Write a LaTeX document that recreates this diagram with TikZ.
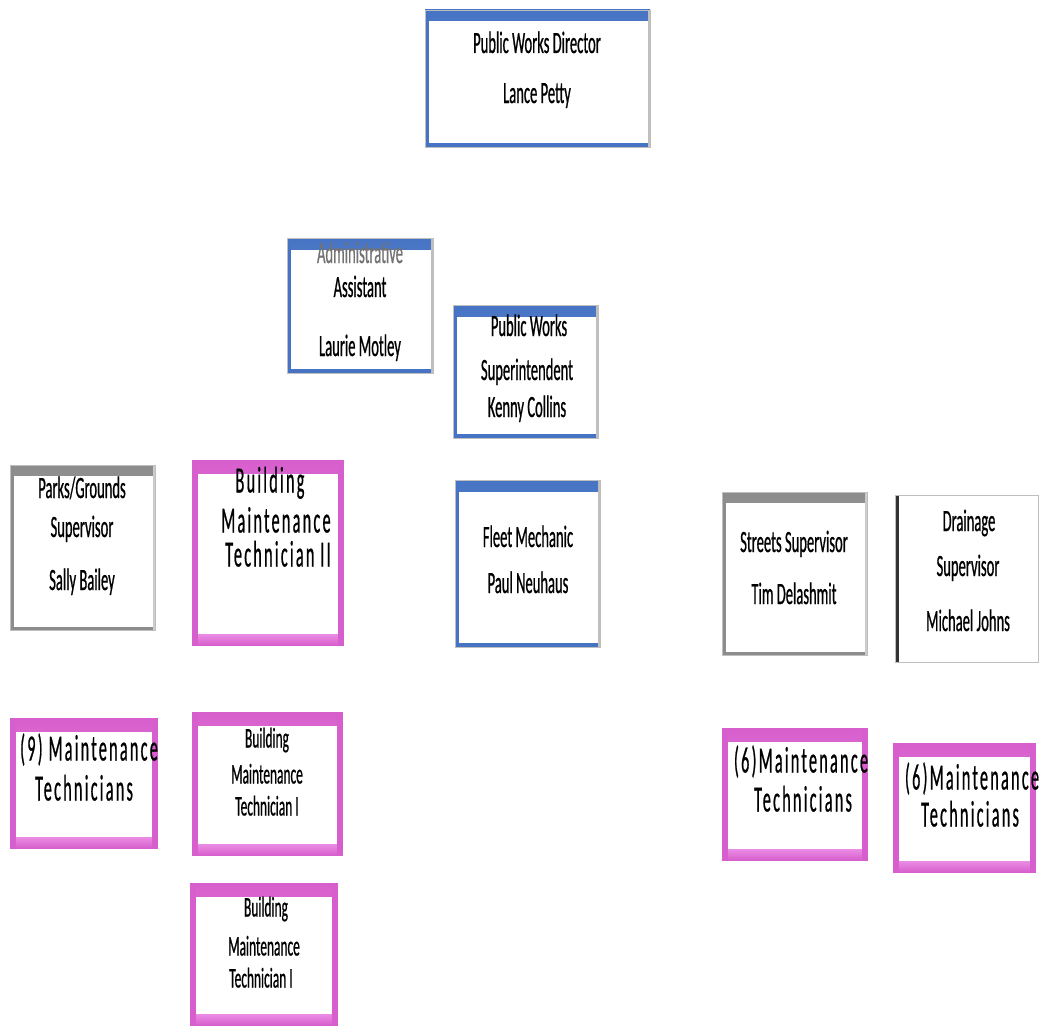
\documentclass[tikz,border=0pt]{standalone}
\usepackage{fontspec}
\newfontfamily\cf[FakeStretch=0.47,FakeBold=0.6]{Carlito}
\newfontfamily\cfs[FakeStretch=0.47,FakeBold=0.6]{Carlito}
\newfontfamily\cfb[FakeStretch=0.44,LetterSpace=6,FakeBold=0.5]{Carlito}
\definecolor{blueL}{RGB}{120,160,225}
\definecolor{blueD}{RGB}{70,115,195}
\definecolor{pinkL}{RGB}{235,140,228}
\definecolor{pinkD}{RGB}{215,95,205}
\definecolor{grayL}{RGB}{190,190,190}
\definecolor{grayD}{RGB}{140,140,140}
\tikzset{
  base/.style={rectangle, inner sep=0pt, outer sep=0pt, fill=white, draw=black!25, line width=0.6pt},
  bluebox/.style={base, path picture={
    \fill[top color=blueD, bottom color=blueL] (path picture bounding box.north west) rectangle ([yshift=-11pt]path picture bounding box.north east);
    \fill[blueD] (path picture bounding box.north west) rectangle ([xshift=4pt]path picture bounding box.south west);
    \fill[blueD] (path picture bounding box.south west) rectangle ([yshift=4pt]path picture bounding box.south east);
    \fill[black!25] ([xshift=-2pt]path picture bounding box.north east) rectangle (path picture bounding box.south east);
  }},
  graybox/.style={base, path picture={
    \fill[top color=grayD, bottom color=grayL] (path picture bounding box.north west) rectangle ([yshift=-10pt]path picture bounding box.north east);
    \fill[grayD] (path picture bounding box.north west) rectangle ([xshift=4pt]path picture bounding box.south west);
    \fill[grayD] (path picture bounding box.south west) rectangle ([yshift=3pt]path picture bounding box.south east);
    \fill[black!20] ([xshift=-2pt]path picture bounding box.north east) rectangle (path picture bounding box.south east);
  }},
  darkleft/.style={path picture={
    \fill[black!80] (path picture bounding box.north west) rectangle ([xshift=4pt]path picture bounding box.south west);
  }},
  pinkbox/.style={base, draw=pinkD, path picture={
    \fill[top color=pinkD, bottom color=pinkL] (path picture bounding box.north west) rectangle ([yshift=-13pt]path picture bounding box.north east);
    \fill[top color=pinkL, bottom color=pinkD] (path picture bounding box.south west) rectangle ([yshift=11pt]path picture bounding box.south east);
    \fill[pinkD] (path picture bounding box.north west) rectangle ([xshift=6pt]path picture bounding box.south west);
    \fill[pinkD] ([xshift=-5pt]path picture bounding box.north east) rectangle (path picture bounding box.south east);
  }},
  txt/.style={inner sep=0pt, text height=14pt, text depth=0pt, font=\cf\fontsize{31}{31}\selectfont},
  stxt/.style={inner sep=0pt, text height=13pt, text depth=0pt, font=\cfs\fontsize{28.5}{28.5}\selectfont},
  btxt/.style={inner sep=0pt, text height=17pt, text depth=0pt, font=\cfb\fontsize{37}{37}\selectfont},
}
\newcommand\obox[6]{%
  \node[#2, minimum width={(#5-#3)*1pt}, minimum height={(#6-#4)*1pt}] (#1) at ({(#3+#5)/2},{(#4+#6)/2}) {};}
\begin{document}
\begin{tikzpicture}[x=1pt,y=-1pt]
\useasboundingbox[fill=white] (0,0) rectangle (1040,1030);
% boxes
\obox{dir}{bluebox}{425}{10}{650}{147}
\obox{adm}{bluebox}{287}{238}{433}{373}
\obox{sup}{bluebox}{453}{305}{598}{438}
\obox{parks}{graybox}{10}{465}{155}{630}
\obox{bmtii}{pinkbox}{192}{460}{343}{645}
\obox{fleet}{bluebox}{455}{480}{600}{647}
\obox{streets}{graybox}{722}{492}{867}{655}
\obox{drain}{graybox,darkleft}{895}{495}{1038}{662}
\obox{nine}{pinkbox}{10}{718}{157}{848}
\obox{bmti}{pinkbox}{192}{712}{342}{855}
\obox{bmtib}{pinkbox}{190}{883}{337}{1025}
\obox{sixa}{pinkbox}{722}{728}{867}{860}
\obox{sixb}{pinkbox}{893}{743}{1035}{872}
% texts
\node[txt] (dirA) at (537,46) {Public Works Director};
\node[txt] (dirB) at (537,96) {Lance Petty};
\node[txt, text=black!55] (admA) at (360,256) {Administrative};
\node[txt] (admB) at (360,290) {Assistant};
\node[txt] (admC) at (360,349) {Laurie Motley};
\node[txt] (supA) at (529,329) {Public Works};
\node[txt] (supB) at (527,373) {Superintendent};
\node[txt] (supC) at (527,410) {Kenny Collins};
\node[txt] (parksA) at (82,491) {Parks/Grounds};
\node[txt] (parksB) at (82,530) {Supervisor};
\node[txt] (parksC) at (82,583) {Sally Bailey};
\node[btxt] (bmtiiA) at (270,484) {Building};
\node[btxt] (bmtiiB) at (276,524) {Maintenance};
\node[btxt] (bmtiiC) at (278,558) {Technician II};
\node[txt] (fleetA) at (528,540) {Fleet Mechanic};
\node[txt] (fleetB) at (528,586) {Paul Neuhaus};
\node[txt] (streetsA) at (794,545) {Streets Supervisor};
\node[txt] (streetsB) at (794,597) {Tim Delashmit};
\node[txt] (drainA) at (969,524) {Drainage};
\node[txt] (drainB) at (968,569) {Supervisor};
\node[txt] (drainC) at (968,624) {Michael Johns};
\node[btxt] (nineA) at (89,752) {(9) Maintenance};
\node[btxt] (nineB) at (84,792) {Technicians};
\node[stxt] (bmtiA) at (267,741) {Building};
\node[stxt] (bmtiB) at (267,777) {Maintenance};
\node[stxt] (bmtiC) at (267,809) {Technician I};
\node[stxt] (bmtibA) at (266,910) {Building};
\node[stxt] (bmtibB) at (264,949) {Maintenance};
\node[stxt] (bmtibC) at (261,981) {Technician I};
\node[btxt] (sixaA) at (801,764) {(6)Maintenance};
\node[btxt] (sixaB) at (803,803) {Technicians};
\node[btxt] (sixbA) at (972,781) {(6)Maintenance};
\node[btxt] (sixbB) at (970,818) {Technicians};
\end{tikzpicture}
\end{document}
